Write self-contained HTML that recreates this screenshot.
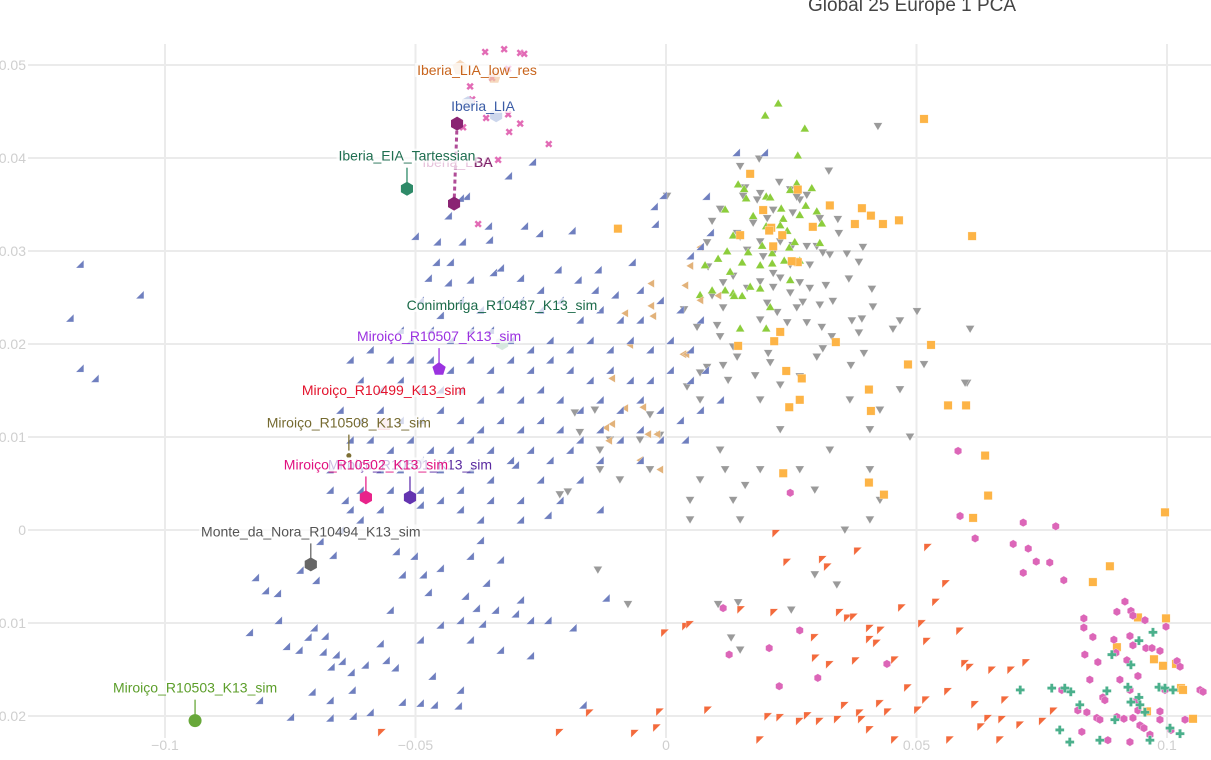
<!DOCTYPE html>
<html><head><meta charset="utf-8">
<style>
html,body{margin:0;padding:0;background:#fff;}
body{width:1211px;height:755px;overflow:hidden;font-family:"Liberation Sans",sans-serif;}
svg text{font-family:"Liberation Sans",sans-serif;}
</style></head>
<body>
<svg id="chart" width="1211" height="755" xmlns="http://www.w3.org/2000/svg">
<text x="808" y="11" font-size="19" fill="#444">Global 25 Europe 1 PCA</text>
<g id="grid"></g>
<g id="ticks"></g>
<g id="marks"></g>
<g id="labels"></g>
</svg>
<script>
// values in units of 1e-3 (PC1, PC2)
const xTicks=[-100,-50,0,50,100];
const xTickLabels=["\u22120.1","\u22120.05","0","0.05","0.1"];
const yTicks=[50,40,30,20,10,0,-10,-20];
const yTickLabels=["0.05","0.04","0.03","0.02","0.01","0","\u22120.01","\u22120.02"];

const blueX=[-117,-105,-119,-117,-114,-31.5,-26.7,-18.8,-25.3,-28.3,-35.5,-39.9,-41.1,-43.5,-45.7,-50.1,-40.7,-35.3,-43.1,-45.9,-47.5,-43.5,-39.1,-34.5,-33.1,-29.1,-25.1,-21.6,-17.6,-14.2,-10.2,-5.2,-6.8,-2.4,-0.6,-13.6,4.8,6.8,8.8,8.0,14.0,19.6,-2.2,
-49.1,-45.1,-41.1,-37.1,-33.1,-29.1,-25.1,-21.2,-17.2,-13.2,-9.2,-5.2,-1.2,2.8,6.8,
-53.1,-51.1,-47.1,-43.1,-39.1,-35.1,-31.1,-27.1,-23.2,-19.2,-15.2,-11.2,-7.2,-3.2,0.8,4.8,
-63.1,-59.1,-55.1,-51.1,-47.1,-43.1,-39.1,-35.1,-31.1,-27.1,-23.2,-19.2,-15.2,-11.2,-7.2,-3.2,0.8,4.8,7.8,
-61.1,-57.1,-53.1,-49.1,-45.1,-41.1,-37.1,-33.1,-29.1,-25.1,-21.2,-17.2,-13.2,-9.2,-5.2,-1.2,2.8,6.8,10.8,
-65.1,-61.1,-57.1,-53.1,-49.1,-45.1,-41.1,-37.1,-33.1,-29.1,-25.1,-21.2,-17.2,-13.2,-9.2,-5.2,-1.2,3.8,
-63.1,-59.1,-55.1,-51.1,-47.1,-43.1,-39.1,-35.1,-31.1,-27.1,-23.2,-19.2,-13.2,-5.2,
-67.1,-63.1,-57.1,-53.1,-49.1,-45.1,-39.1,-35.1,-30.1,-25.1,-17.2,
-67.1,-61.1,-55.1,-49.1,-45.1,-41.1,-35.1,-29.1,-21.2,-13.2,-63.1,-57.1,-49.1,-41.1,-37.1,-29.1,-23.6,
-64.1,-65.1,-61.1,-82.0,-80.0,-77.6,-69.1,-66.5,-73.1,-69.9,-77.4,-73.3,-70.3,-65.9,-83.2,-75.8,-68.5,-64.7,-62.9,-57.1,-71.5,-68.1,-66.9,-70.7,-67.1,-62.7,-62.5,-81.2,-75.0,-67.1,-59.1,-52.7,-49.1,-46.3,-41.5,-41.1,-46.7,-55.9,-54.1,-60.1,-53.9,-50.3,-52.7,-48.5,-45.1,-47.5,-40.1,-35.9,-37.9,-34.1,-30.1,-39.1,-37.1,-33.1,-29.1,-27.1,-45.1,-36.7,-41.1,-49.1,-55.1,-18.6,-12.0,-23.6,-16.6,-39.1,-33.1,-27.1];
const blueY=[28.6,25.3,22.8,17.4,16.3,38.1,39.6,32.2,31.9,32.7,32.7,35.9,35.7,33.8,31.0,31.6,31.0,31.2,28.8,28.8,27.1,26.6,26.9,27.7,28.2,27.1,25.8,28.0,26.9,25.8,25.3,25.8,28.8,34.8,36.0,28.0,29.5,30.5,32.0,35.9,40.6,40.6,32.9,
24.7,23.1,24.7,23.7,24.7,24.7,23.7,24.7,22.6,23.7,22.6,22.6,24.7,23.7,22.6,
21.5,20.4,21.5,20.4,21.5,21.5,20.4,19.4,20.4,19.4,20.4,19.4,20.4,19.4,20.4,19.4,
18.3,19.4,18.3,18.3,18.3,17.2,18.3,17.2,18.3,17.2,18.3,17.2,16.1,17.2,16.1,16.1,17.2,16.1,17.2,
16.1,15.1,16.1,15.1,15.1,15.1,14.0,15.1,14.0,15.1,14.0,12.9,14.0,12.9,14.0,12.9,11.8,12.9,14.0,
12.9,11.8,12.9,11.8,11.8,12.9,11.8,10.8,11.8,10.8,11.8,10.8,9.7,10.8,9.7,10.8,9.7,9.7,
9.7,9.7,8.6,9.7,8.6,8.6,9.7,8.6,7.5,8.6,7.5,8.6,7.5,7.5,
6.5,7.0,6.5,6.5,7.5,6.5,6.5,5.4,7.0,5.4,5.4,
4.3,4.3,4.3,4.3,3.2,4.3,3.2,3.2,3.2,2.2,2.2,2.2,2.7,2.2,1.1,1.1,1.6,
3.2,0,1.1,-5.1,-6.5,-6.8,-1.2,-2.7,-4.3,-5.4,-9.7,-12.9,-10.5,-13.4,-11.0,-12.5,-13.1,-14.1,-15.3,-12.2,-11.5,-11.4,-14.7,-17.4,-18.3,-17.2,-20.0,-18.3,-20.1,-20.2,-19.6,-18.5,-18.6,-18.8,-18.9,-17.2,-15.7,-14.0,-14.8,-14.5,-2.3,-2.8,-4.8,-4.8,-4.1,-6.7,-7.1,-5.7,-8.4,-8.6,-9.0,-2.8,-1.1,-3.2,-7.5,-9.7,-10.2,-10.1,-9.7,-11.8,-8.6,-10.5,-7.3,-9.7,-18.8,-11.8,-12.9,-13.5];

const grayX=[42.3,18.6,14.8,32.5,22.6,15.8,0.2,10.8,9.2,30.7,34.3,34.5,39.3,36.1,38.5,50.1,60.7,46.7,41.1,41.3,36.5,31.9,33.3,45.3,39.1,37.1,38.5,31.1,33.1,36.9,51.5,60.1,31.3,30.1,39.5,26.7,22.8,17.8,20.8,13.4,10.8,6.8,4.2,12.4,8.2,11.4,14.2,20.4,24.2,28.1,18.8,22.2,26.1,27.3,30.7,20.2,24.8,28.7,21.4,18.8,26.7,22.8,16.2,13.4,11.4,9.2,11.4,10.2,6.2,3.6,28.7,26.1,24.8,21.4,19.4,21.4,25.3,28.1,30.1,31.3,32.7,22.8,18.8,16.2,14.8,14.2,17.4,20.2,21.4,25.3,26.7,28.1,24.8,26.1,18.8,18.2,15.4,8.2,8.4,
-18.2,-14.2,-17.2,-11.2,-5.2,-1.2,-19.6,-13.2,-9.2,-3.2,6.8,11.8,15.8,18.8,26.7,4.8,13.4,14.8,-7.6,-13.6,10.4,14.4,25.0,13.0,14.8,29.7,34.1,35.7,40.7,42.7,40.7,32.7,40.7,48.7,59.7,29.7,36.7,42.7,46.7,-21.2,-13.2,4.8,10.8,-3.2,6.8,18.8,22.8];
const grayY=[43.4,39.9,39.1,38.6,37.4,36.8,35.9,34.5,33.2,33.5,33.4,31.9,30.4,29.7,28.8,23.5,21.6,22.5,25.9,24.0,27.0,26.3,24.6,21.6,22.7,22.5,21.2,21.8,20.8,17.7,17.8,15.8,19.5,18.6,19.0,16.5,15.6,16.6,18.0,19.7,20.8,16.9,15.4,16.1,17.5,17.7,18.6,19.0,22.3,22.3,22.6,23.4,23.9,24.5,24.2,24.4,25.5,26.0,26.1,26.7,26.6,27.1,26.0,27.3,26.6,25.2,23.9,22.0,21.8,23.7,28.5,28.9,28.5,27.6,29.4,29.8,30.6,30.5,30.5,29.8,29.6,31.0,31.0,30.1,31.5,31.9,33.0,33.5,34.4,34.1,35.5,36.0,36.6,35.8,36.2,35.5,35.9,30.9,28.3,
12.6,12.9,10.5,9.7,9.7,10.2,4.1,6.5,5.4,6.5,5.4,6.5,4.8,6.5,6.5,1.1,3.2,1.1,-8.0,-4.3,-8.0,-7.8,-8.6,-11.6,-12.9,-4.8,-5.9,0,1.1,3.2,6.5,8.6,10.8,10.0,15.8,4.3,14.0,12.9,15.1,3.8,8.6,3.2,8.6,12.4,14.0,14.0,10.8];

const greenX=[22.4,19.8,27.7,26.3,26.1,14.4,24.8,11.8,15.6,20.0,16.0,20.8,27.9,29.1,30.1,23.0,23.4,26.7,17.4,24.2,20.0,22.8,31.1,30.7,13.4,19.2,24.6,25.7,12.2,16.4,21.2,18.8,23.6,15.2,12.8,10.4,9.2,11.8,13.4,16.8,18.8,15.2,13.6,20.8,14.8,20.0,24.8,21.2,26.7,6.8,7.8];
const greenY=[45.9,44.6,43.2,40.3,37.3,37.2,36.6,34.5,36.7,35.9,35.7,35.8,34.9,36.8,34.3,34.6,33.5,33.9,33.8,32.2,32.7,32.8,33.0,30.9,31.7,30.6,30.4,31.0,30.0,29.9,29.8,28.5,29.0,28.8,27.8,29.2,25.8,25.8,25.5,26.2,26.0,25.2,25.2,24.0,21.7,21.7,26.9,28.7,29.0,25.3,28.5];

const orangeX=[51.5,-9.6,16.8,19.4,21.0,26.3,32.7,39.1,40.9,43.3,46.5,37.7,29.3,14.8,20.6,23.2,21.4,26.3,25.1,61.1,22.8,21.6,14.4,33.9,52.9,48.3,40.5,40.9,56.3,59.9,24.6,26.7,24.0,27.1,63.7,40.5,43.5,64.3,23.4,61.3,88.6,99.6,85.2,94.2,99.8,90.0,97.4,99.2,101.8,102.8,96.0,105.2,103.2];
const orangeY=[44.2,32.4,38.3,34.4,32.5,36.6,34.9,34.6,33.8,32.9,33.3,32.9,32.6,31.7,32.2,31.7,30.5,28.8,28.9,31.6,21.3,20.3,19.8,20.2,19.9,17.8,15.1,12.8,13.4,13.4,13.2,14.0,17.1,16.3,8.0,5.1,3.8,3.7,6.1,1.3,-3.9,1.9,-5.6,-9.4,-9.5,-12.6,-13.9,-14.6,-14.4,-17.0,-19.5,-20.3,-17.2];

const redX=[22.0,24.2,38.3,31.3,52.3,32.3,55.9,53.9,47.1,34.7,40.7,51.1,58.7,59.7,60.7,-0.2,4.0,4.8,15.0,21.6,36.3,37.5,40.7,42.9,52.1,42.1,45.7,29.7,29.9,32.7,37.9,56.3,65.1,68.9,71.9,48.3,51.9,50.3,42.7,44.3,38.7,39.1,35.7,34.3,28.3,30.7,20.4,22.8,26.7,-15.2,-6.2,-1.2,-1.8,61.7,62.9,64.3,67.1,8.4,40.7,66.7,70.7,18.8,45.7,-21.2,56.7,67.7,77.4,75.2,-56.7];
const redY=[-0.4,-3.5,-2.3,-3.2,-1.9,-4.0,-5.8,-7.8,-8.4,-8.9,-10.6,-10.1,-10.9,-14.4,-14.8,-11.1,-10.4,-10.2,-8.6,-8.9,-9.5,-9.4,-11.8,-10.8,-12.0,-12.2,-14.0,-11.6,-13.8,-14.5,-14.1,-17.4,-15.1,-15.1,-14.3,-17.0,-18.3,-19.4,-18.7,-19.6,-19.7,-20.4,-18.9,-20.4,-20.0,-20.6,-20.1,-20.2,-20.6,-19.7,-21.9,-19.6,-21.3,-18.8,-21.2,-20.3,-20.4,-19.4,-21.5,-22.6,-21.0,-22.6,-22.6,-21.8,-22.6,-18.3,-19.5,-20.6,-21.8];

const pinkX=[58.3,58.7,71.3,77.8,61.7,69.3,72.3,73.9,76.6,71.3,79.4,11.4,12.6,20.6,22.6,24.8,26.7,30.3,44.1,83.4,83.4,85.2,90.0,91.6,92.8,93.2,95.6,99.8,83.6,86.2,89.4,89.8,92.0,92.6,93.2,95.8,97.0,98.6,94.2,102.0,102.6,87.2,87.6,82.2,84.0,86.0,86.6,90.0,91.4,93.2,94.0,94.2,94.6,95.4,98.6,100.8,83.0,88.2,92.6,96.6,106.6,107.2,79.0,84.6,90.6,99.6,98.6,103.6,92.6];
const pinkY=[8.5,1.5,0.8,0.4,-0.9,-1.5,-2.0,-3.4,-3.5,-4.6,-5.4,-8.4,-13.4,-12.7,-16.8,4.0,-10.8,-15.9,-14.4,-9.5,-10.5,-11.5,-8.8,-7.7,-8.7,-9.2,-9.7,-10.4,-13.4,-14.2,-11.8,-13.2,-14.0,-11.4,-12.4,-12.7,-12.7,-13.0,-15.7,-14.1,-14.7,-18.0,-18.3,-19.4,-19.6,-20.2,-20.4,-20.1,-20.3,-20.2,-18.3,-19.4,-21.0,-21.3,-19.5,-21.5,-21.7,-22.6,-22.8,-22.0,-17.2,-17.4,-17.2,-16.1,-16.1,-17.2,-20.4,-20.4,-17.2];

const tealX=[97.2,94.4,89.0,92.8,80.8,88.0,79.6,77.0,70.7,92.2,94.4,98.4,99.6,101.2,95.6,89.6,92.8,94.6,82.6,78.6,100.6,102.6,96.6,86.6,80.6];
const tealY=[-11.0,-11.9,-13.4,-14.5,-17.4,-17.3,-17.0,-17.0,-17.2,-16.9,-18.0,-16.9,-17.0,-17.2,-19.6,-20.4,-18.5,-18.8,-18.8,-21.5,-21.3,-21.9,-22.6,-22.6,-22.8];

const tanX=[-3.0,-2.6,4.8,6.8,3.8,-8.2,-7.2,-10.8,3.4,-10.8,-3.6,-4.6,-12.0,-1.8,4.0,6.8,10.4,-3.0,-8.2,-5.2,-1.2,-11.4];
const tanY=[26.5,23.0,28.4,30.4,26.3,23.3,19.9,16.3,18.9,11.4,10.3,13.2,11.0,10.3,18.9,24.7,25.2,24.1,13.1,7.5,6.5,9.6];

const crossX=[-36.1,-32.3,-29.1,-28.3,-31.5,-34.7,-38.7,-40.5,-31.5,-35.9,-31.3,-29.1,-23.4,-33.5,-37.5,-39.1];
const crossY=[51.4,51.7,51.3,51.2,49.6,48.6,46.3,43.3,44.7,44.3,42.8,43.7,41.5,39.8,32.9,47.7];

const sampleNames=["Iberia_EIA_Tartessian","Miroiço_R10507_K13_sim","Miroiço_R10508_K13_sim","Miroiço_R10501_K13_sim","Miroiço_R10502_K13_sim","Monte_da_Nora_R10494_K13_sim","Miroiço_R10503_K13_sim"];
const sampleX=[-51.7,-45.3,-63.3,-51.1,-59.9,-70.9,-94.0];
const sampleY=[36.7,17.3,8.0,3.5,3.5,-3.7,-20.5];

const NS="http://www.w3.org/2000/svg";
function sx(v){return 666+v*5.01;}
function sy(v){return 530-v*9.3;}
function mk(tag,attrs,parent){const e=document.createElementNS(NS,tag);for(const k in attrs)e.setAttribute(k,attrs[k]);parent.appendChild(e);return e;}

const grid=document.getElementById('grid');
const ticks=document.getElementById('ticks');
const marks=document.getElementById('marks');
const labels=document.getElementById('labels');

for(let i=0;i<yTicks.length;i++){
  const y=sy(yTicks[i]);
  const l=mk('line',{x1:28,x2:1211,y1:y,y2:y,stroke:'#ebebeb','stroke-width':2},grid);
  
  
  const t=mk('text',{x:26,y:y+5,'text-anchor':'end','font-size':14,fill:'#cfcfcf'},ticks);
  t.textContent=yTickLabels[i];
  
  
}
for(let i=0;i<xTicks.length;i++){
  const x=sx(xTicks[i]);
  const l=mk('line',{x1:x,x2:x,y1:44,y2:738,stroke:'#ebebeb','stroke-width':2},grid);
  
  
  const t=mk('text',{x:x,y:750,'text-anchor':'middle','font-size':14,fill:'#cfcfcf'},ticks);
  t.textContent=xTickLabels[i];
  
  
}

function shape(kind,x,y,r){
  switch(kind){
    case 'se': return `M${x+r},${y-r}L${x+r},${y+r}L${x-r},${y+r}Z`;
    case 'nw': return `M${x-r},${y-r}L${x+r},${y-r}L${x-r},${y+r}Z`;
    case 'down': return `M${x-r},${y-r*0.8}L${x+r},${y-r*0.8}L${x},${y+r*0.9}Z`;
    case 'up': return `M${x-r},${y+r*0.8}L${x+r},${y+r*0.8}L${x},${y-r*0.9}Z`;
    case 'left': return `M${x+r*0.8},${y-r}L${x+r*0.8},${y+r}L${x-r*0.9},${y}Z`;
    case 'square': return `M${x-r},${y-r}h${2*r}v${2*r}h${-2*r}Z`;
    case 'hex': {let d='';for(let k=0;k<6;k++){const a=Math.PI/6+k*Math.PI/3;d+=(k?'L':'M')+(x+r*Math.cos(a)).toFixed(1)+','+(y+r*Math.sin(a)).toFixed(1);}return d+'Z';}
    case 'pent': {let d='';for(let k=0;k<5;k++){const a=-Math.PI/2+k*2*Math.PI/5;d+=(k?'L':'M')+(x+r*Math.cos(a)).toFixed(1)+','+(y+r*Math.sin(a)).toFixed(1);}return d+'Z';}
    case 'cross': {const w=r*0.35;return `M${x-w},${y-r}h${2*w}v${r-w}h${r-w}v${2*w}h${w-r}v${r-w}h${-2*w}v${w-r}h${w-r}v${-2*w}h${r-w}Z`;}
    case 'x': {const w=r*0.33,c=Math.SQRT1_2;const pts=[[-w,-r],[w,-r],[w,-w],[r,-w],[r,w],[w,w],[w,r],[-w,r],[-w,w],[-r,w],[-r,-w],[-w,-w]];return pts.map((p,k)=>(k?'L':'M')+(x+(p[0]-p[1])*c).toFixed(1)+','+(y+(p[0]+p[1])*c).toFixed(1)).join('')+'Z';}
  }
}
function series(name,xs,ys,kind,r,color){
  const g=mk('g',{},marks);
  
  
  for(let i=0;i<xs.length;i++){
    const p=mk('path',{d:shape(kind,sx(xs[i]),sy(ys[i]),r),fill:color,stroke:'#fff','stroke-width':0.5,'stroke-opacity':0.6},g);
    
    
  }
}
series('gray',grayX,grayY,'down',4.5,'#9a9a9a');
series('green',greenX,greenY,'up',4.5,'#8ccd3c');
series('orange-square',orangeX,orangeY,'square',4.2,'#fdb446');
series('tan',tanX,tanY,'left',4.2,'#e2b27a');
series('blue',blueX,blueY,'se',4,'#6f7fbf');
series('red-orange',redX,redY,'nw',4,'#f36a3c');
series('pink',pinkX,pinkY,'hex',4.2,'#dc66b8');
series('teal',tealX,tealY,'cross',4.5,'#4bb08c');
series('pink-cross',crossX,crossY,'x',4,'#e26bb5');

function faint(d,color,op,name){const p=mk('path',{d:d,fill:color,opacity:op},marks);}
faint(shape('pent',sx(-41.1),sy(49.7),8),'#f2c9a2',0.7,'iberia-lia-low-res-point');
faint(shape('pent',sx(-34.3),sy(48.7),7),'#f2c9a2',0.7,'iberia-lia-low-res-point');
faint(shape('hex',sx(-39.5),sy(45.9),7),'#c6d2ea',0.9,'iberia-lia-point');
faint(shape('hex',sx(-33.9),sy(44.6),7),'#c6d2ea',0.9,'iberia-lia-point');
faint(shape('hex',sx(-32.7),sy(20.1),7),'#d2e6dc',0.9,'conimbriga-point');
faint(shape('square',sx(-56.3),sy(11.4),6),'#f6c9cf',0.9,'miroico-r10499-point');
const dl=mk('line',{x1:sx(-41.7),y1:sy(43.7),x2:sx(-42.3),y2:sy(35.1),stroke:'#b04c97','stroke-width':3,'stroke-dasharray':'4,3'},marks);


faint(shape('hex',sx(-41.7),sy(43.7),7),'#8a2473',1,'iberia-lba-point');
faint(shape('hex',sx(-42.3),sy(35.1),7),'#8a2473',1,'iberia-lba-point');

function bg(t){
  const b=t.getBBox();
  const r=mk('rect',{x:b.x-2,y:b.y+1,width:b.width+4,height:b.height-2,fill:'#fff',opacity:0.7},labels);
  labels.insertBefore(r,t);
  
  
}
function txt(s,x,y,color,name,size){const t=mk('text',{x:x,y:y,'text-anchor':'middle','font-size':size||14,fill:color},labels);t.textContent=s;bg(t);return t;}
txt('Iberia_LIA_low_res',477,75,'#c8641c','iberia-lia-low-res-label');
txt('Iberia_LIA',483,111,'#3b5ca6','iberia-lia-label');
txt('Iberia_LBA',457,167,'#e7c3dc','iberia-lba-label');
const ba=mk('text',{x:474,y:167,'font-size':14,fill:'#7a1e66'},labels);ba.textContent='BA';


txt('Conimbriga_R10487_K13_sim',502,310,'#1c6b4a','conimbriga-label');
txt('Miroiço_R10499_K13_sim',384,395,'#e3132d','miroico-r10499-label');

const sampleColors=['#2e8a68','#9b33e0','#7c6f34','#6334b0','#e8238a','#666666','#68a83a'];
const labelColors=['#1f6e50','#9b30e0','#756a30','#5a2aa0','#e0107f','#555555','#5c9e2a'];
const sampleShapes=['hex','pent','dot','hex','hex','hex','circle'];
for(let i=0;i<sampleNames.length;i++){
  const x=sx(sampleX[i]),y=sy(sampleY[i]);
  const ln=mk('line',{x1:x,x2:x,y1:y-21,y2:y-5,stroke:sampleColors[i],'stroke-width':1.3},labels);
  
  
  let p;
  if(sampleShapes[i]==='dot'){p=mk('circle',{cx:x,cy:y,r:2.5,fill:sampleColors[i]},labels);}
  else if(sampleShapes[i]==='circle'){p=mk('circle',{cx:x,cy:y,r:6.5,fill:sampleColors[i]},labels);}
  else {p=mk('path',{d:shape(sampleShapes[i],x,y,7),fill:sampleColors[i]},labels);}
  
  
  const t=mk('text',{x:x,y:y-28,'text-anchor':'middle','font-size':14,fill:labelColors[i]},labels);
  t.textContent=sampleNames[i];
  
  
  bg(t);
}
</script>
</body></html>
